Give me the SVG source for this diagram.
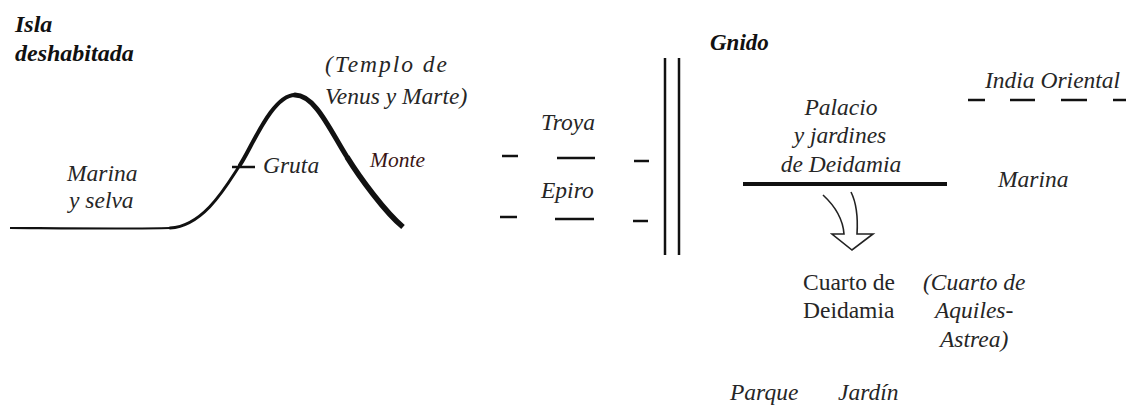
<svg xmlns="http://www.w3.org/2000/svg" width="1126" height="407" viewBox="0 0 1126 407">
<style>
text{font-family:'Liberation Serif','DejaVu Serif',serif;fill:#262626;font-size:23.5px}
.it{font-style:italic}
.bi{font-style:italic;font-weight:bold;fill:#111;font-size:24px}
.ln{stroke:#111;fill:none}
.dash{stroke:#111;stroke-width:2.5}
</style>
<rect width="1126" height="407" fill="#fff"/>
<g id="isla">
<text class="bi" x="15" y="32">Isla</text>
<text class="bi" x="15" y="61">deshabitada</text>
</g>
<g id="monte-curve">
<path class="ln" stroke-width="2.2" d="M10,228 C90,228.5 140,229 170,228"/>
<path class="ln" stroke-width="3" stroke-linecap="round" d="M170,228 C205,226 228,183 240,165"/>
<path class="ln" stroke-width="4" stroke-linecap="round" d="M240,165 C252,147 272,95 295,95"/>
<path class="ln" stroke-width="5" stroke-linecap="round" d="M295,95 C315,95 330,130 347,157"/>
<path class="ln" stroke-width="5.5" d="M347,157 C360,178 385,212 403,227"/>
<line class="ln" stroke-width="2.5" x1="232" y1="167" x2="255" y2="167"/>
</g>
<g id="templo"><text class="it" x="325" y="72" textLength="122">(Templo de</text><text class="it" x="325" y="104">Venus y Marte)</text></g>
<g id="gruta"><text class="it" x="263" y="173">Gruta</text></g>
<g id="monte"><text class="it" x="370" y="167" style="fill:#3a1414;font-size:21.5px">Monte</text></g>
<g id="marina-selva"><text class="it" x="67" y="181">Marina</text><text class="it" x="69" y="208">y selva</text></g>
<g id="troya"><text class="it" x="541" y="130">Troya</text></g>
<g id="epiro"><text class="it" x="541" y="198">Epiro</text></g>
<g id="dashes-left">
<line class="dash" x1="502" y1="156" x2="518" y2="156"/>
<line class="dash" x1="557" y1="158" x2="595" y2="158"/>
<line class="dash" x1="634" y1="161" x2="649" y2="161"/>
<line class="dash" x1="500" y1="217" x2="517" y2="217"/>
<line class="dash" x1="555" y1="219" x2="594" y2="219"/>
<line class="dash" x1="633" y1="221" x2="648" y2="221"/>
</g>
<g id="border">
<line class="ln" stroke-width="2.5" x1="665" y1="58" x2="665" y2="255"/>
<line class="ln" stroke-width="2.5" x1="679" y1="58" x2="679" y2="255"/>
</g>
<g id="gnido"><text class="bi" x="710" y="50" style="font-size:23px">Gnido</text></g>
<g id="palacio">
<text class="it" x="841" y="115" text-anchor="middle">Palacio</text>
<text class="it" x="840" y="143" text-anchor="middle">y jardines</text>
<text class="it" x="841" y="172" text-anchor="middle">de Deidamia</text>
<line class="ln" stroke-width="4" x1="743" y1="184" x2="947" y2="184"/>
</g>
<g id="india">
<text class="it" x="985" y="88">India Oriental</text>
<line class="dash" stroke-width="3" x1="968" y1="100" x2="985" y2="100"/>
<line class="dash" stroke-width="3" x1="1010" y1="100" x2="1035" y2="100"/>
<line class="dash" stroke-width="3" x1="1061" y1="100" x2="1087" y2="100"/>
<line class="dash" stroke-width="3" x1="1113" y1="100" x2="1126" y2="100"/>
</g>
<g id="marina"><text class="it" x="998" y="187">Marina</text></g>
<g id="connectors">
<path d="M823,195 C836,207 843,220 844,234 L832,234 L852,250 L873,234 L857,234 C858,218 857,204 851,192" fill="#fff" stroke="#222" stroke-width="1.6" stroke-linejoin="miter"/>
</g>
<g id="cuarto-deidamia"><text x="803" y="290">Cuarto de</text><text x="803" y="318">Deidamia</text></g>
<g id="cuarto-aquiles"><text class="it" x="923" y="290">(Cuarto de</text><text class="it" x="935" y="318">Aquiles-</text><text class="it" x="940" y="347">Astrea)</text></g>
<g id="parque"><text class="it" x="730" y="400">Parque</text></g>
<g id="jardin"><text class="it" x="838" y="400">Jardín</text></g>
</svg>
